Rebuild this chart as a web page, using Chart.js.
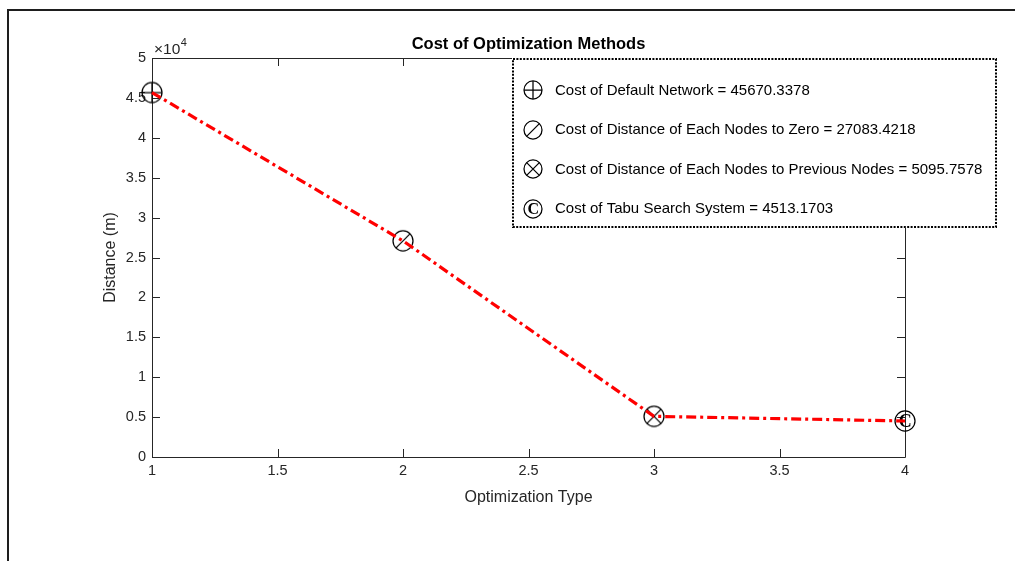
<!DOCTYPE html>
<html><head><meta charset="utf-8">
<script src="https://cdn.jsdelivr.net/npm/chart.js@4.4.0/dist/chart.umd.min.js"></script>
<style>html,body{margin:0;padding:0;background:#fff;overflow:hidden}#wrap{width:1015px;height:561px;position:relative}canvas{display:block}</style>
</head><body><div id="wrap"><canvas id="c" width="1015" height="561"></canvas></div>
<script>
const optimizationTypes = [1, 2, 3, 4];
const costValues = [45670.3378, 27083.4218, 5095.7578, 4513.1703];
const seriesNames = ['Cost of Default Network', 'Cost of Distance of Each Nodes to Zero', 'Cost of Distance of Each Nodes to Previous Nodes', 'Cost of Tabu Search System'];
const markerKinds = ['plus', 'slash', 'cross', 'copyright'];
const xTickValues = [1, 1.5, 2, 2.5, 3, 3.5, 4];
const xTickLabels = ['1', '1.5', '2', '2.5', '3', '3.5', '4'];
const yTickValues = [0, 5000, 10000, 15000, 20000, 25000, 30000, 35000, 40000, 45000, 50000];
const yTickLabels = ['0', '0.5', '1', '1.5', '2', '2.5', '3', '3.5', '4', '4.5', '5'];
const chartTitle = 'Cost of Optimization Methods';
const xTitle = 'Optimization Type';
const yTitle = 'Distance (m)';

const FONT = '"Liberation Sans", Arial, Helvetica, sans-serif';
const AXIS_COLOR = '#262626';

function makeMarker(kind, size, r) {
  const c = document.createElement('canvas');
  c.width = size; c.height = size;
  const g = c.getContext('2d');
  const cx = size / 2, cy = size / 2;
  g.strokeStyle = '#000'; g.lineWidth = 1.25;
  g.beginPath(); g.arc(cx, cy, r, 0, Math.PI * 2); g.stroke();
  g.beginPath();
  const d = r * 0.7071;
  if (kind === 'plus') { g.moveTo(cx - r, cy); g.lineTo(cx + r, cy); g.moveTo(cx, cy - r); g.lineTo(cx, cy + r); }
  else if (kind === 'slash') { g.moveTo(cx - d, cy + d); g.lineTo(cx + d, cy - d); }
  else if (kind === 'cross') { g.moveTo(cx - d, cy - d); g.lineTo(cx + d, cy + d); g.moveTo(cx - d, cy + d); g.lineTo(cx + d, cy - d); }
  g.stroke();
  if (kind === 'copyright') {
    g.fillStyle = '#000';
    g.font = 'bold ' + Math.round(r * 1.75) + 'px "Liberation Serif", "Times New Roman", serif';
    g.textAlign = 'center'; g.textBaseline = 'middle';
    g.fillText('C', cx + 0.3, cy + 1);
  }
  return c;
}
const plotMarkers = markerKinds.map(k => makeMarker(k, 24, 10));
const legendMarkers = markerKinds.map(k => makeMarker(k, 22, 9));

const points = optimizationTypes.map((x, i) => ({ x: x, y: costValues[i] }));

const boxPlugin = {
  id: 'box',
  beforeDatasetsDraw(chart) {
    const { ctx, chartArea: a, scales: { x, y } } = chart;
    ctx.save();
    ctx.strokeStyle = AXIS_COLOR; ctx.lineWidth = 1;
    ctx.beginPath();
    ctx.rect(Math.round(a.left) + 0.5, Math.round(a.top) + 0.5, Math.round(a.right - a.left), Math.round(a.bottom - a.top));
    const tl = 8;
    xTickValues.forEach(v => {
      const px = Math.round(x.getPixelForValue(v)) + 0.5;
      ctx.moveTo(px, a.bottom); ctx.lineTo(px, a.bottom - tl);
      ctx.moveTo(px, a.top); ctx.lineTo(px, a.top + tl);
    });
    yTickValues.forEach(v => {
      const py = Math.round(y.getPixelForValue(v)) + 0.5;
      ctx.moveTo(a.left, py); ctx.lineTo(a.left + tl, py);
      ctx.moveTo(a.right, py); ctx.lineTo(a.right - tl, py);
    });
    ctx.stroke();
    ctx.restore();
  }
};

const overlayPlugin = {
  id: 'overlay',
  afterDraw(chart) {
    const { ctx, chartArea: a } = chart;
    ctx.save();
    // outer frame
    ctx.strokeStyle = '#1e1e1e'; ctx.lineWidth = 2;
    ctx.beginPath();
    ctx.moveTo(8, 561); ctx.lineTo(8, 10); ctx.lineTo(1015, 10);
    ctx.stroke();
    // title
    ctx.fillStyle = '#000';
    ctx.font = 'bold 16.5px ' + FONT;
    ctx.textAlign = 'center'; ctx.textBaseline = 'middle';
    ctx.fillText(chartTitle, (a.left + a.right) / 2, 44);
    // exponent
    ctx.fillStyle = AXIS_COLOR;
    ctx.textAlign = 'left'; ctx.textBaseline = 'alphabetic';
    ctx.font = '15.5px ' + FONT;
    ctx.fillText('\u00d710', a.left + 2, 54);
    const w = ctx.measureText('\u00d710').width;
    ctx.font = '11px ' + FONT;
    ctx.fillText('4', a.left + 2 + w + 0.5, 46);
    // legend
    const lx = 512, ly = 58, lw = 485, lh = 170;
    ctx.fillStyle = '#fff';
    ctx.fillRect(lx, ly, lw, lh);
    ctx.strokeStyle = '#000'; ctx.lineWidth = 2;
    ctx.setLineDash([2, 1.4]);
    ctx.strokeRect(lx + 1, ly + 1, lw - 2, lh - 2);
    ctx.setLineDash([]);
    ctx.font = '15px ' + FONT;
    ctx.fillStyle = '#000';
    ctx.textBaseline = 'middle';
    seriesNames.forEach((name, i) => {
      const ry = 90 + i * 39.6;
      const m = legendMarkers[i];
      ctx.drawImage(m, Math.round(533 - m.width / 2), Math.round(ry - m.height / 2));
      ctx.fillText(name + ' = ' + costValues[i].toFixed(4), 555, ry + 0.5);
    });
    ctx.restore();
  }
};

new Chart(document.getElementById('c').getContext('2d'), {
  type: 'line',
  data: {
    datasets: [
      {
        data: points, borderColor: '#ff0000', borderWidth: 3.2, borderDash: [10, 4, 3, 4],
        pointRadius: 0, fill: false, tension: 0, clip: false
      },
      {
        data: points, showLine: false, pointStyle: plotMarkers, pointRadius: 10,
        borderColor: '#000', backgroundColor: 'transparent', clip: false
      }
    ]
  },
  options: {
    responsive: false, animation: false, devicePixelRatio: 1,
    layout: { padding: { top: 58, right: 110, left: 0, bottom: 0 } },
    plugins: { legend: { display: false }, tooltip: { enabled: false }, title: { display: false } },
    scales: {
      x: {
        type: 'linear', min: 1, max: 4,
        afterBuildTicks: s => { s.ticks = xTickValues.map(v => ({ value: v })); },
        afterFit: s => { s.height = 104; },
        ticks: { callback: (v, i) => xTickLabels[i], color: AXIS_COLOR, font: { family: FONT, size: 14.5 }, padding: 5, maxRotation: 0, autoSkip: false },
        grid: { display: false, drawTicks: false },
        border: { display: false },
        title: { display: true, text: xTitle, color: AXIS_COLOR, font: { family: FONT, size: 16 }, padding: { top: 0, bottom: 53.5 } }
      },
      y: {
        type: 'linear', min: 0, max: 50000,
        afterBuildTicks: s => { s.ticks = yTickValues.map(v => ({ value: v })); },
        afterFit: s => { s.width = 152; },
        ticks: { callback: (v, i) => yTickLabels[i], color: AXIS_COLOR, font: { family: FONT, size: 14.5 }, padding: 6, autoSkip: false },
        grid: { display: false, drawTicks: false },
        border: { display: false },
        title: { display: true, text: yTitle, color: AXIS_COLOR, font: { family: FONT, size: 16 }, padding: { top: 100.5, bottom: 0 } }
      }
    }
  },
  plugins: [boxPlugin, overlayPlugin]
});
</script>
</body></html>
